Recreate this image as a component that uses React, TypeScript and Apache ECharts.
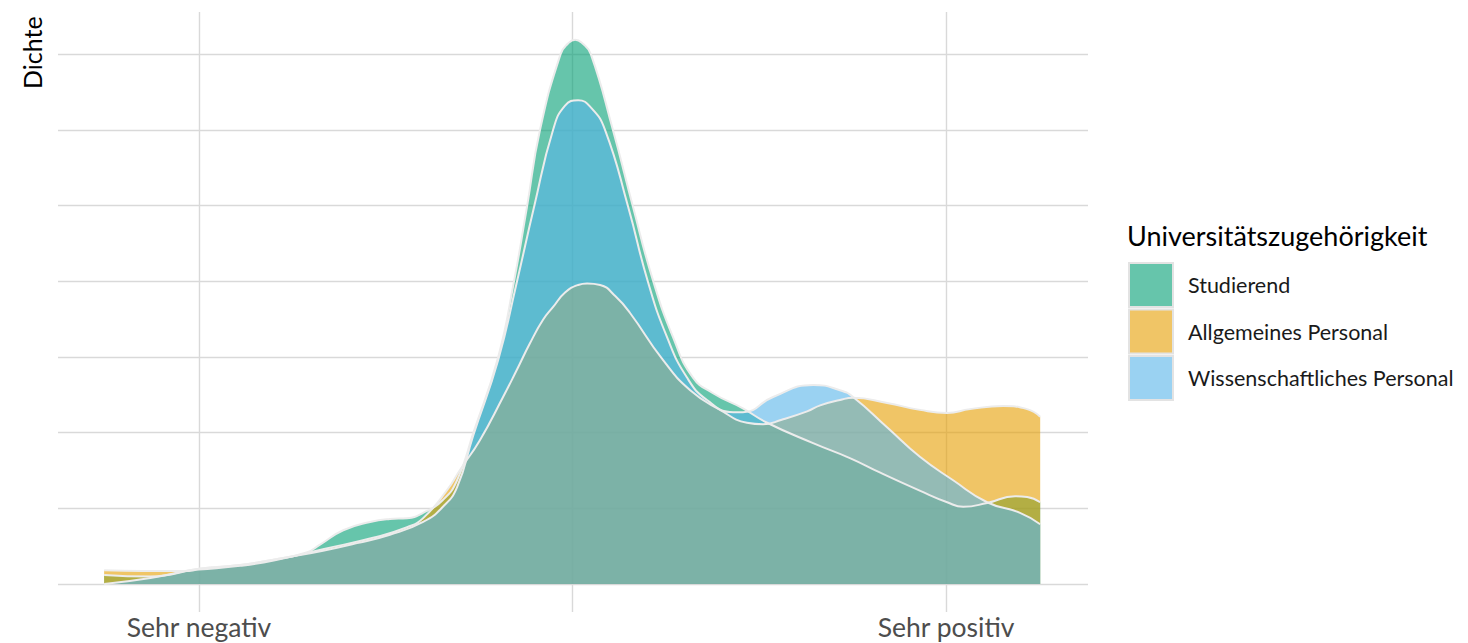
import React, { useEffect, useRef } from "react";
import * as echarts from "echarts";

// x in scale units: -1 = "Sehr negativ", 0 = middle, 1 = "Sehr positiv"; y = density (grid units)
const studierend: [number, number][] = [
  [-1.254, 0.12], [-1.13, 0.1], [-1.0, 0.2], [-0.89, 0.25], [-0.8, 0.32], [-0.71, 0.42],
  [-0.676, 0.52], [-0.614, 0.71], [-0.542, 0.82], [-0.489, 0.86], [-0.443, 0.87], [-0.4, 0.94],
  [-0.347, 1.11], [-0.309, 1.37], [-0.266, 1.99], [-0.199, 3.0], [-0.157, 3.99], [-0.122, 4.98],
  [-0.087, 6.0], [-0.032, 7.0], [-0.012, 7.14], [0.007, 7.19], [0.027, 7.14], [0.049, 7.0],
  [0.108, 6.0], [0.162, 4.98], [0.213, 4.05], [0.269, 3.26], [0.322, 2.73], [0.376, 2.52],
  [0.456, 2.32], [0.521, 2.13], [0.644, 1.86], [0.744, 1.66], [0.824, 1.47], [0.931, 1.23],
  [1.003, 1.08], [1.046, 1.02], [1.11, 1.07], [1.185, 1.16], [1.217, 1.15], [1.252, 1.08],
];

const allgemeines: [number, number][] = [
  [-1.254, 0.18], [-1.15, 0.17], [-1.04, 0.17], [-1.0, 0.19], [-0.89, 0.24], [-0.8, 0.31],
  [-0.668, 0.46], [-0.534, 0.61], [-0.443, 0.75], [-0.4, 0.87], [-0.336, 1.24], [-0.301, 1.51],
  [-0.248, 1.9], [-0.186, 2.47], [-0.149, 2.83], [-0.114, 3.18], [-0.079, 3.49], [-0.052, 3.66],
  [-0.02, 3.85], [0.015, 3.95], [0.039, 3.97], [0.074, 3.95], [0.115, 3.8], [0.154, 3.58],
  [0.242, 2.96], [0.315, 2.56], [0.395, 2.3], [0.467, 2.13], [0.51, 2.11], [0.56, 2.17],
  [0.628, 2.28], [0.663, 2.36], [0.716, 2.43], [0.751, 2.46], [0.842, 2.39], [0.93, 2.3],
  [1.003, 2.26], [1.064, 2.31], [1.153, 2.35], [1.217, 2.31], [1.252, 2.21],
];

const wissenschaftliches: [number, number][] = [
  [-1.254, 0.0], [-1.13, 0.08], [-1.0, 0.2], [-0.89, 0.25], [-0.756, 0.36], [-0.668, 0.44],
  [-0.577, 0.54], [-0.489, 0.65], [-0.4, 0.82], [-0.347, 1.02], [-0.309, 1.28], [-0.266, 1.96],
  [-0.199, 2.96], [-0.149, 3.99], [-0.103, 4.98], [-0.052, 6.0], [-0.02, 6.32], [0.015, 6.39],
  [0.05, 6.29], [0.087, 6.0], [0.149, 4.98], [0.202, 3.99], [0.253, 3.26], [0.306, 2.73],
  [0.36, 2.43], [0.43, 2.27], [0.456, 2.27], [0.537, 2.47], [0.644, 2.63], [0.716, 2.56],
  [0.751, 2.47], [0.842, 2.07], [0.93, 1.68], [1.019, 1.37], [1.11, 1.08], [1.198, 0.94],
  [1.252, 0.79],
];

const seriesNames = ["Studierend", "Allgemeines Personal", "Wissenschaftliches Personal"];
const seriesColors = ["#009E73", "#E69F00", "#56B4E9"];
const xTickValues = [-1, 1];
const xTickLabels = ["Sehr negativ", "Sehr positiv"];
const xGridValues = [-1, 0, 1];
const yGridValues = [0, 1, 2, 3, 4, 5, 6, 7];

const FONT = "Lato";

export default function App() {
  const ref = useRef<HTMLDivElement>(null);
  useEffect(() => {
    if (!ref.current) return;
    const chart = echarts.init(ref.current, null, { renderer: "svg" });
    const datasets = [studierend, allgemeines, wissenschaftliches];
    const toRgba = (hex: string, a: number) => {
      const n = parseInt(hex.slice(1), 16);
      return `rgba(${(n >> 16) & 255},${(n >> 8) & 255},${n & 255},${a})`;
    };
    const option: any = {
      animation: false,
      grid: { left: 58, right: 380, top: 12, bottom: 31 },
      xAxis: {
        type: "value",
        min: -1.3775,
        max: 1.38,
        axisLine: { show: false },
        axisTick: { show: false },
        splitLine: { show: false },
        axisLabel: {
          customValues: xTickValues,
          formatter: (v: number) => {
            const i = xTickValues.indexOf(Math.round(v));
            return i >= 0 ? xTickLabels[i] : "";
          },
          fontFamily: FONT,
          fontSize: 26.5,
          lineHeight: 26,
          color: "#4d4d4d",
          margin: 2,
        },
      },
      yAxis: {
        type: "value",
        min: -0.37,
        max: 7.556,
        show: false,
      },
      legend: {
        orient: "vertical",
        left: 1128,
        top: 262,
        padding: 0,
        icon: "rect",
        itemWidth: 44,
        itemHeight: 44,
        itemGap: 0.5,
        textStyle: {
          fontFamily: FONT,
          fontSize: 21.5,
          color: "#1a1a1a",
          padding: [0, 0, 0, 10],
        },
        data: seriesNames.map((name, i) => ({
          name,
          itemStyle: {
            color: toRgba(seriesColors[i], 0.6),
            borderColor: "#e3e3e3",
            borderWidth: 2,
          },
        })),
      },
      graphic: [
        {
          type: "text",
          left: 1127,
          top: 222,
          style: {
            text: "Universitätszugehörigkeit",
            fontFamily: FONT,
            fontSize: 27,
            fill: "#000",
          },
        },
        {
          type: "text",
          x: 19,
          y: 89,
          rotation: Math.PI / 2,
          style: {
            text: "Dichte",
            fontFamily: FONT,
            fontSize: 25,
            fill: "#000",
            align: "left",
            verticalAlign: "top",
          },
        },
      ],
      series: [
        {
          type: "line",
          name: "grid",
          data: [],
          silent: true,
          z: 1,
          markLine: {
            silent: true,
            z: 1,
            symbol: ["none", "none"],
            label: { show: false },
            lineStyle: { color: "#d9d9d9", width: 1.4, type: "solid" },
            data: [
              ...xGridValues.map((v) => ({ xAxis: v })),
              ...yGridValues.map((v) => ({ yAxis: v })),
            ],
          },
        },
        ...datasets.map((d, i) => ({
          type: "line",
          name: seriesNames[i],
          data: d,
          z: 2,
          smooth: 0.5,
          showSymbol: false,
          symbol: "none",
          color: seriesColors[i],
          lineStyle: { color: "#ececec", width: 2 },
          areaStyle: { color: seriesColors[i], opacity: 0.6 },
        })),
      ],
    };
    chart.setOption(option);
    return () => chart.dispose();
  }, []);
  return (
    <div
      ref={ref}
      style={{ position: "absolute", left: 0, top: 0, width: 1468, height: 643 }}
    />
  );
}
